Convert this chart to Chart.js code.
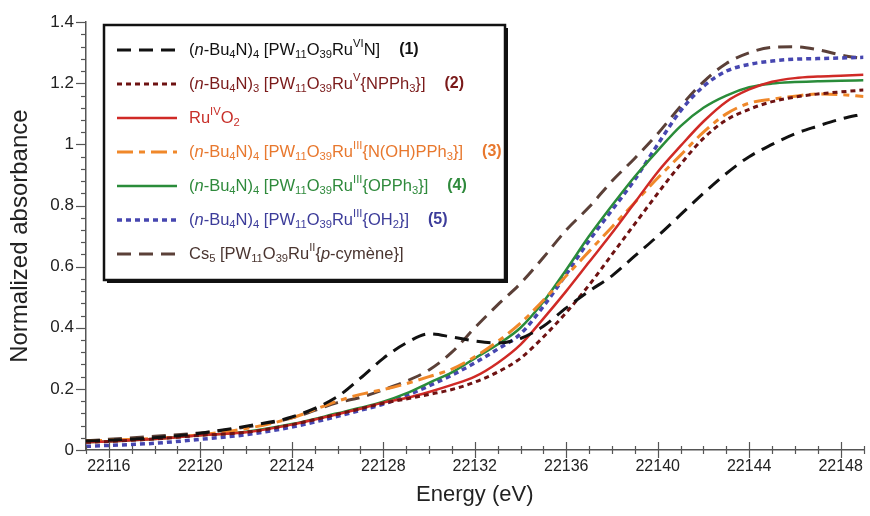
<!DOCTYPE html>
<html><head><meta charset="utf-8">
<script src="https://cdn.jsdelivr.net/npm/chart.js@4.4.1/dist/chart.umd.min.js"></script>
<style>html,body{margin:0;padding:0;background:#fff;}#wrap{width:870px;height:516px;}</style>
</head><body><div id="wrap"><canvas id="c" width="870" height="516"></canvas></div>
<script>
const energy = [22115,22116,22118,22120,22122,22124,22126,22127,22128,22129,22130,22131,22132,22133,22134,22135,22136,22137,22138,22139,22140,22141,22142,22143,22144,22145,22146,22147,22148,22149];
const s1_RuVIN    = [.03,.032,.04,.055,.078,.108,.175,.235,.30,.35,.38,.37,.357,.35,.365,.405,.465,.52,.57,.635,.70,.77,.84,.905,.96,1.0,1.035,1.06,1.083,1.10];
const s2_RuVNPPh3 = [.025,.028,.036,.048,.058,.083,.117,.135,.153,.167,.182,.198,.222,.255,.30,.37,.45,.54,.64,.74,.84,.935,1.02,1.08,1.115,1.14,1.155,1.165,1.172,1.178];
const s_RuO2      = [.025,.028,.036,.048,.058,.083,.117,.135,.155,.17,.19,.213,.24,.285,.345,.43,.52,.615,.71,.81,.91,.995,1.075,1.14,1.18,1.205,1.217,1.222,1.225,1.228];
const s3_NOHPPh3  = [.03,.032,.038,.05,.07,.105,.16,.182,.198,.217,.24,.265,.305,.355,.415,.49,.57,.65,.73,.81,.89,.965,1.04,1.10,1.135,1.148,1.158,1.165,1.163,1.157];
const s4_OPPh3    = [.025,.028,.036,.048,.06,.085,.12,.138,.158,.185,.22,.254,.30,.345,.40,.485,.59,.70,.80,.895,.98,1.06,1.12,1.16,1.187,1.199,1.204,1.207,1.208,1.21];
const s5_OH2      = [.012,.015,.022,.035,.05,.075,.11,.13,.15,.178,.21,.245,.285,.33,.38,.47,.575,.685,.785,.885,1.0,1.11,1.19,1.24,1.262,1.273,1.279,1.281,1.283,1.285];
const s_Cs5       = [.03,.035,.045,.056,.075,.105,.155,.172,.197,.225,.262,.32,.40,.475,.545,.63,.72,.795,.88,.955,1.035,1.125,1.205,1.265,1.30,1.318,1.32,1.31,1.293,1.28];

const seriesLabels = [
  "(<i>n</i>-Bu<sub>4</sub>N)<sub>4</sub> [PW<sub>11</sub>O<sub>39</sub>Ru<sup>VI</sup>N]",
  "(<i>n</i>-Bu<sub>4</sub>N)<sub>3</sub> [PW<sub>11</sub>O<sub>39</sub>Ru<sup>V</sup>{NPPh<sub>3</sub>}]",
  "Ru<sup>IV</sup>O<sub>2</sub>",
  "(<i>n</i>-Bu<sub>4</sub>N)<sub>4</sub> [PW<sub>11</sub>O<sub>39</sub>Ru<sup>III</sup>{N(OH)PPh<sub>3</sub>}]",
  "(<i>n</i>-Bu<sub>4</sub>N)<sub>4</sub> [PW<sub>11</sub>O<sub>39</sub>Ru<sup>III</sup>{OPPh<sub>3</sub>}]",
  "(<i>n</i>-Bu<sub>4</sub>N)<sub>4</sub> [PW<sub>11</sub>O<sub>39</sub>Ru<sup>III</sup>{OH<sub>2</sub>}]",
  "Cs<sub>5</sub> [PW<sub>11</sub>O<sub>39</sub>Ru<sup>II</sup>{<i>p</i>-cymène}]"
];
const seriesNumbers = ["(1)","(2)","","(3)","(4)","(5)",""];
const seriesValues = [s1_RuVIN, s2_RuVNPPh3, s_RuO2, s3_NOHPPh3, s4_OPPh3, s5_OH2, s_Cs5];
const xTickValues = [22116,22120,22124,22128,22132,22136,22140,22144,22148];
const yTickValues = [0,0.2,0.4,0.6,0.8,1,1.2,1.4];
const xAxisTitle = "Energy (eV)";
const yAxisTitle = "Normalized absorbance";

const FONT = "'Liberation Sans', Arial, Helvetica, sans-serif";
const styles = [
  {color:'#111111', text:'#111111', dash:[14,8], width:3},
  {color:'#6e1212', text:'#7a1a1a', dash:[5,4], width:3},
  {color:'#d02a26', text:'#c8302a', dash:[], width:2.5},
  {color:'#f0882a', text:'#e8782e', dash:[16,6,6,6], width:3},
  {color:'#2a8c3a', text:'#2f8a3c', dash:[], width:2.5},
  {color:'#4646b0', text:'#3c3c9a', dash:[5,4], width:3.5},
  {color:'#5b4038', text:'#4a3530', dash:[14,8], width:3}
];

function drawRich(ctx, markup, x, y, base, bold){
  const re = /<(sub|sup|i)>(.*?)<\/\1>|([^<]+)/g;
  let m;
  while ((m = re.exec(markup))) {
    const type = m[1] || 'n';
    const txt = m[1] ? m[2] : m[3];
    let size = base, dy = 0, st = bold ? 'bold ' : '';
    if (type === 'sub') { size = base * 0.68; dy = 5; }
    if (type === 'sup') { size = base * 0.68; dy = -6; }
    if (type === 'i') st = 'italic ' + st;
    ctx.font = st + size + 'px ' + FONT;
    ctx.fillText(txt, x, y + dy);
    x += ctx.measureText(txt).width;
  }
  return x;
}

const decor = {
  id: 'decor',
  afterDraw(chart) {
    const ctx = chart.ctx, xs = chart.scales.x, ys = chart.scales.y, ca = chart.chartArea;
    ctx.save();
    ctx.strokeStyle = '#555'; ctx.lineWidth = 1.2;
    for (let e = Math.ceil(xs.min); e <= xs.max; e++) {
      const px = Math.round(xs.getPixelForValue(e)) + 0.5;
      const major = xTickValues.includes(e);
      ctx.beginPath(); ctx.moveTo(px, ca.bottom - (major ? 8 : 4)); ctx.lineTo(px, ca.bottom + (major ? 8 : 4)); ctx.stroke();
    }
    for (let k = 0; k <= 35; k++) {
      const v = k * 0.04;
      const py = Math.round(ys.getPixelForValue(v)) + 0.5;
      const major = k % 5 === 0;
      ctx.beginPath(); ctx.moveTo(ca.left - (major ? 10 : 5), py); ctx.lineTo(ca.left, py); ctx.stroke();
    }
    const bx = 104, by = 25, bw = 401, bh = 255;
    ctx.fillStyle = '#111'; ctx.fillRect(bx + 3, by + 3, bw, bh);
    ctx.fillStyle = '#fff'; ctx.fillRect(bx, by, bw, bh);
    ctx.strokeStyle = '#111'; ctx.lineWidth = 2.5; ctx.strokeRect(bx, by, bw, bh);
    ctx.textBaseline = 'middle'; ctx.textAlign = 'left';
    chart.data.datasets.forEach((ds, i) => {
      const y = 50 + i * 34;
      ctx.strokeStyle = ds.borderColor; ctx.lineWidth = ds.borderWidth;
      ctx.setLineDash(ds.borderDash || []);
      ctx.beginPath(); ctx.moveTo(117, y); ctx.lineTo(177, y); ctx.stroke();
      ctx.setLineDash([]);
      ctx.fillStyle = styles[i].text;
      const end = drawRich(ctx, seriesLabels[i], 189, y, 16.5, false);
      if (seriesNumbers[i]) drawRich(ctx, seriesNumbers[i], end + 19, y, 16, true);
    });
    ctx.restore();
  }
};

new Chart(document.getElementById('c'), {
  type: 'line',
  data: {
    datasets: seriesValues.map((vals, i) => ({
      label: seriesLabels[i].replace(/<[^>]+>/g, ''),
      data: energy.map((e, j) => ({x: e, y: vals[j]})),
      borderColor: styles[i].color,
      borderWidth: styles[i].width,
      borderDash: styles[i].dash,
      borderCapStyle: 'butt',
      pointRadius: 0,
      fill: false,
      cubicInterpolationMode: 'monotone'
    }))
  },
  options: {
    responsive: false, animation: false,
    layout: {padding: {top: 18, right: 3, left: 0, bottom: 0}},
    plugins: {legend: {display: false}, tooltip: {enabled: false}},
    scales: {
      x: {
        type: 'linear', min: 22115, max: 22149,
        afterBuildTicks: s => { s.ticks = xTickValues.map(v => ({value: v})); },
        afterFit: s => { s.height = 66; },
        grid: {display: true, drawOnChartArea: false, drawTicks: false},
        border: {display: true, color: '#555', width: 1.5},
        ticks: {padding: 7, color: '#222', font: {family: FONT, size: 16}, maxRotation: 0, autoSkip: false, callback: v => String(v)},
        title: {display: true, text: xAxisTitle, color: '#222', font: {family: FONT, size: 22}, padding: {top: 0, bottom: 8}}
      },
      y: {
        min: 0, max: 1.4,
        afterBuildTicks: s => { s.ticks = yTickValues.map(v => ({value: v})); },
        afterFit: s => { s.width = 86; },
        grid: {display: true, drawOnChartArea: false, drawTicks: false},
        border: {display: true, color: '#555', width: 1.5},
        ticks: {padding: 12, color: '#222', font: {family: FONT, size: 17}, callback: v => String(+Number(v).toFixed(1))},
        title: {display: true, text: yAxisTitle, color: '#222', font: {family: FONT, size: 24}, padding: {top: 6, bottom: 0}}
      }
    }
  },
  plugins: [decor]
});
</script></body></html>
